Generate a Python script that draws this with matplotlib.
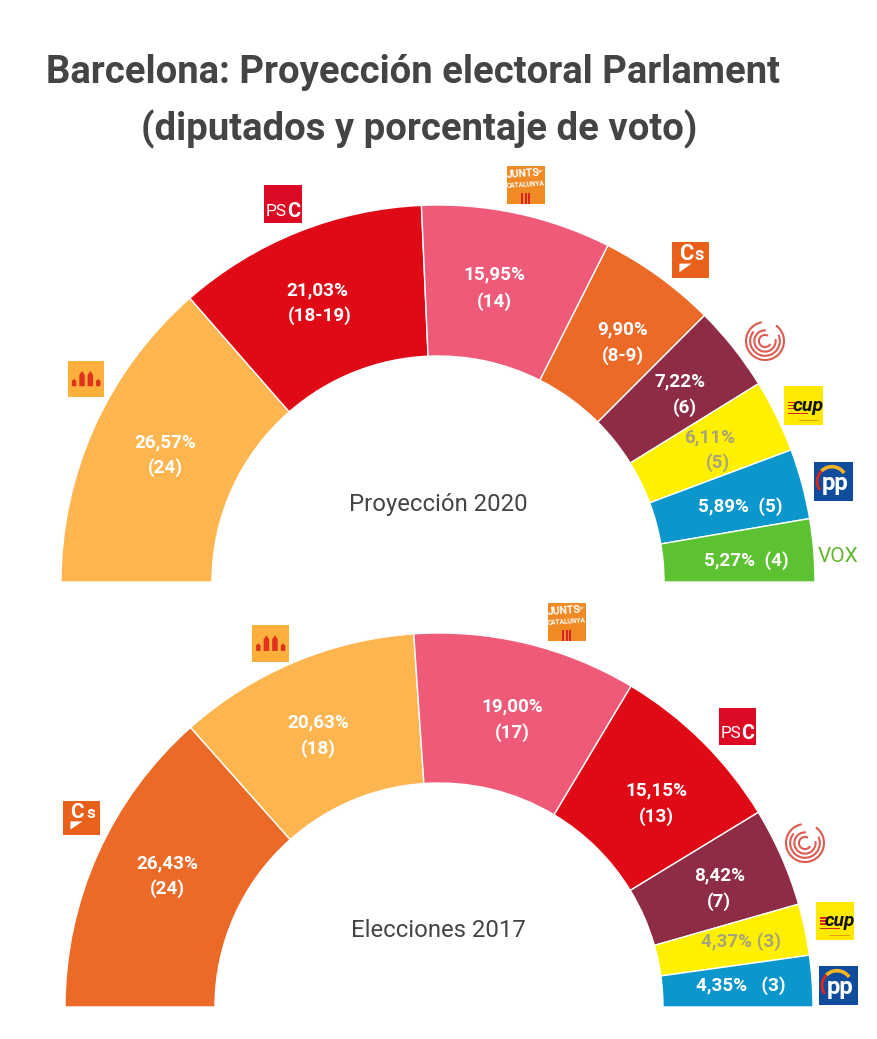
import matplotlib
matplotlib.use("Agg")
import matplotlib.pyplot as plt
from matplotlib.patches import Rectangle, Arc, Polygon

W, H = 878, 1039
plt.rcParams['font.family'] = ['Roboto', 'DejaVu Sans']

# ---- data ----
parties_2020 = ["ERC", "PSC", "JxCat", "Cs", "Comuns", "CUP", "PP", "Vox"]
votes_2020 = [26.57, 21.03, 15.95, 9.90, 7.22, 6.11, 5.89, 5.27]
seats_2020 = ["24", "18-19", "14", "8-9", "6", "5", "5", "4"]

parties_2017 = ["Cs", "ERC", "JxCat", "PSC", "Comuns", "CUP", "PP"]
votes_2017 = [26.43, 20.63, 19.00, 15.15, 8.42, 4.37, 4.35]
seats_2017 = ["24", "18", "17", "13", "7", "3", "3"]

party_colors = {"ERC": "#FDB64F", "PSC": "#E00A17", "JxCat": "#EE5A78", "Cs": "#EC6A28",
                "Comuns": "#8E2C45", "CUP": "#FFF000", "PP": "#0B96CC", "Vox": "#5CC231"}

fig = plt.figure(figsize=(W / 100, H / 100), dpi=100, facecolor="white")
ax = fig.add_axes([0, 0, 1, 1])


def Y(py):
    return H - py


def hemicycle(votes, parties, cx, cy, R, r):
    total = sum(votes)
    wedges, _ = ax.pie(votes + [total], startangle=180, counterclock=False, radius=R,
                       center=(cx, Y(cy)), frame=True,
                       colors=[party_colors[p] for p in parties] + ["white"],
                       wedgeprops=dict(width=R - r, edgecolor="white", linewidth=1.0))
    wedges[-1].set_visible(False)


hemicycle(votes_2020, parties_2020, 438, 582, 377, 226)
hemicycle(votes_2017, parties_2017, 439, 1007, 374, 224)

ax.set_xlim(0, W)
ax.set_ylim(0, H)
ax.set_aspect("equal")
ax.axis("off")

DARK = "#444444"
ax.text(413.5, Y(72), "Barcelona: Proyección electoral Parlament", ha="center", va="center",
        fontsize=27.5, fontweight="bold", color=DARK)
ax.text(419, Y(129), "(diputados y porcentaje de voto)", ha="center", va="center",
        fontsize=27.5, fontweight="bold", color=DARK)
ax.text(438, Y(504), "Proyección 2020", ha="center", va="center", fontsize=17.2, color=DARK)
ax.text(438, Y(931), "Elecciones 2017", ha="center", va="center", fontsize=17.2, color=DARK)


def pct(v):
    return f"{v:.2f}".replace(".", ",") + "%"


def lab(x, y, s, c="white"):
    ax.text(x, Y(y + 1), s, ha="center", va="center", fontsize=13.6, fontweight="bold", color=c, zorder=5)


GREY = "#A8A47A"
top_pos = [((165, 441), (165, 467)), ((317, 289), (320, 315)), ((494, 273), (494, 301)),
           ((623, 328), (623, 355)), ((680, 380), (685, 407)), ((710, 436), (718, 462))]
for v, s, p, (a, b) in zip(votes_2020, seats_2020, parties_2020, top_pos):
    c = GREY if p == "CUP" else "white"
    lab(*a, pct(v), c)
    lab(*b, f"({s})", c)
lab(740, 506, f"{pct(votes_2020[6])}  ({seats_2020[6]})")
lab(746, 560, f"{pct(votes_2020[7])}  ({seats_2020[7]})")

bot_pos = [((167, 862), (167, 888)), ((318, 721), (318, 748)), ((512, 705), (512, 732)),
           ((656, 789), (656, 816)), ((720, 874), (719, 901))]
for v, s, (a, b) in zip(votes_2017, seats_2017, bot_pos):
    lab(*a, pct(v))
    lab(*b, f"({s})")
lab(741, 941, f"{pct(votes_2017[5])} ({seats_2017[5]})", GREY)
lab(741, 985, f"{pct(votes_2017[6])}   ({seats_2017[6]})")


# ---- party logos ----
def box(x0, y0, w, h, c):
    ax.add_patch(Rectangle((x0, Y(y0 + h)), w, h, fc=c, ec="none", zorder=6))


def logo_text(x, y, s, size, c="white", **kw):
    ax.text(x, Y(y), s, ha="center", va="center", fontsize=size, color=c, zorder=7, **kw)


def psc(x0, y0, s):
    box(x0, y0, s, s, "#DD0A25")
    logo_text(x0 + s * 0.31, y0 + s * 0.70, "PS", s * 0.33)
    logo_text(x0 + s * 0.77, y0 + s * 0.70, "C", s * 0.38, fontweight="bold")


def junts(x0, y0, s):
    box(x0, y0, s, s, "#F08A24")
    logo_text(x0 + s * 0.42, y0 + s * 0.20, "JUNTS", s * 0.20, rotation=4, fontweight="bold")
    logo_text(x0 + s * 0.86, y0 + s * 0.14, "per", s * 0.09, rotation=4)
    logo_text(x0 + s * 0.5, y0 + s * 0.50, "CATALUNYA", s * 0.125, rotation=4, fontweight="bold")
    for i in range(3):
        box(x0 + s * (0.38 + i * 0.09), y0 + s * 0.72, s * 0.05, s * 0.28, "#D8232A")


def cs(x0, y0, w, h):
    box(x0, y0, w, h, "#E9601A")
    logo_text(x0 + w * 0.39, y0 + h * 0.34, "C", h * 0.44, fontweight="bold")
    logo_text(x0 + w * 0.74, y0 + h * 0.37, "s", h * 0.36, fontweight="bold")
    ax.add_patch(Polygon([(x0 + w * .2, Y(y0 + h * .6)), (x0 + w * .53, Y(y0 + h * .6)),
                          (x0 + w * .2, Y(y0 + h * .84))], fc="white", ec="none", zorder=7))


def erc(x0, y0, s):
    box(x0, y0, s, s, "#FCAF3B")
    base = y0 + s * 0.7
    for dx, hh, w in [(0.17, 0.2, 0.06), (0.39, 0.42, 0.075), (0.62, 0.42, 0.075), (0.84, 0.2, 0.06)]:
        xc = x0 + s * dx
        ww = s * w
        ax.add_patch(Polygon([(xc - ww, Y(base)), (xc - ww, Y(base - s * hh * .75)), (xc, Y(base - s * hh)),
                              (xc + ww, Y(base - s * hh * .75)), (xc + ww, Y(base))],
                             fc="#E0301E", ec="none", zorder=7))


def comuns(cx, cy, R):
    c = "#DE5A50"
    for f, t1, t2 in [(1.0, 100, 55), (0.78, 140, 25), (0.56, 85, 10), (0.32, 60, 330)]:
        d = 2 * R * f
        ax.add_patch(Arc((cx, Y(cy)), d, d, theta1=t1, theta2=t2 + 360 if t2 < t1 else t2,
                         ec=c, lw=1.5, zorder=7))


def cup(x0, y0, s):
    box(x0, y0, s, s, "#FFE900")
    logo_text(x0 + s * 0.62, y0 + s * 0.50, "cup", s * 0.36, c="#111111", fontweight="bold", fontstyle="italic")
    for dy in (0.40, 0.48, 0.56):
        box(x0 + s * 0.10, y0 + s * dy, s * 0.2, s * 0.035, "#D8232A")
    box(x0 + s * 0.10, y0 + s * 0.68, s * 0.52, s * 0.04, "#D8232A")
    box(x0 + s * 0.38, y0 + s * 0.86, s * 0.52, s * 0.04, "#E5A010")


def pp(x0, y0, s):
    box(x0, y0, s, s, "#0F4C9C")
    cx, cy = x0 + s * 0.46, Y(y0 + s * 0.5)
    d = s * 0.76
    ax.add_patch(Arc((cx, cy), d, d, theta1=35, theta2=135, ec="#F5B323", lw=2.6, zorder=7))
    ax.add_patch(Arc((cx, cy), d, d, theta1=135, theta2=215, ec="#E2231A", lw=2.0, zorder=7))
    logo_text(x0 + s * 0.55, y0 + s * 0.55, "pp", s * 0.44, fontweight="bold")


psc(264, 185, 38)
junts(507, 166, 38)
cs(672, 242, 37, 36)
erc(68, 361, 36)
comuns(765, 341, 19)
cup(784, 386, 39)
pp(814, 462, 39)
ax.text(838, Y(556), "VOX", ha="center", va="center", fontsize=15, color="#5FB52E", zorder=7)

erc(252, 625, 37)
junts(548, 603, 38)
psc(719, 708, 37)
cs(63, 801, 37, 34)
comuns(805, 843, 19)
cup(816, 902, 38)
pp(819, 966, 39)

fig.savefig("out.png", dpi=100)
